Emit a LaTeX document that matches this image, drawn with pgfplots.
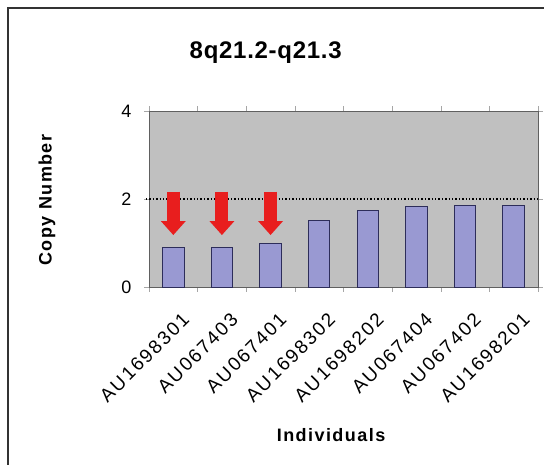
\documentclass[border=0pt]{standalone}
\usepackage{fontspec}
\setmainfont{Liberation Sans}
\newfontfamily\spaced[LetterSpace=8]{Liberation Sans}
\newfontfamily\xspaced[LetterSpace=11]{Liberation Sans}
\newfontfamily\tspaced[LetterSpace=3]{Liberation Sans}
\usepackage{pgfplots}
\pgfplotsset{compat=1.18}
\usetikzlibrary{arrows.meta}
\definecolor{plotbg}{RGB}{192,192,192}
\definecolor{barfill}{RGB}{153,153,210}
\definecolor{barline}{RGB}{45,45,90}
\definecolor{arrowred}{RGB}{232,30,30}
\pgfplotstableread{
x v
0 0.90
1 0.90
2 0.98
3 1.51
4 1.74
5 1.82
6 1.86
7 1.86
}\cnv
\pgfplotstableread{
x y v
0 2.17 -0.99
1 2.17 -0.99
2 2.17 -0.99
}\arrows
\begin{document}
\begin{tikzpicture}[x=1pt,y=1pt]
\useasboundingbox (-149,-178) rectangle (395,287);
\draw[line width=1.8pt, black!80] (-141,-200) -- (-141,279) -- (420,279);
\begin{axis}[
  at={(0,0)}, anchor=south west,
  scale only axis, width=389pt, height=176pt,
  xmin=-0.5, xmax=7.5, ymin=0, ymax=4,
  ytick={0,2,4},
  xtick={0,...,7},
  xticklabels={AU1698301,AU067403,AU067401,AU1698302,AU1698202,AU067404,AU067402,AU1698201},
  minor xtick={-0.5,0.5,...,7.5},
  major x tick style={draw=none},
  minor tick length=5pt,
  major tick length=5pt,
  tick align=outside,
  every tick/.style={gray!70},
  axis line style={gray!75!black, line width=0.8pt},
  axis background/.style={fill=plotbg},
  /pgf/number format/assume math mode=true,
  tick label style={font=\fontsize{18}{20}\selectfont},
  x tick label style={font=\xspaced\fontsize{19}{21}\selectfont, rotate=45, anchor=north east, inner sep=1pt, xshift=-7pt, yshift=-18pt},
  yticklabel style={xshift=-9pt},
  title={\tspaced\bfseries\fontsize{24}{26}\selectfont 8q21.2-q21.3},
  title style={at={(rel axis cs:0.30,1.30)}, anchor=center},
  xlabel={\spaced\bfseries\fontsize{18}{20}\selectfont Individuals},
  xlabel style={at={(rel axis cs:0.468,-0.84)}, anchor=center},
  ylabel={\spaced\bfseries\fontsize{18}{20}\selectfont Copy Number},
  ylabel style={at={(rel axis cs:-0.262,0.494)}, anchor=center, rotate=0},
  clip=false,
]
\addplot[ybar, bar width=21.5pt, fill=barfill, draw=barline, line width=0.9pt] table[x=x,y=v] {\cnv};
\addplot[black, dotted, line width=1.4pt] coordinates {(-0.56,2) (7.5,2)};
\addplot[arrowred, line width=13pt, -{Triangle[width=24pt,length=14pt]},
  quiver={u=0, v=\thisrow{v}}] table[x=x,y=y] {\arrows};
\end{axis}
\end{tikzpicture}
\end{document}
